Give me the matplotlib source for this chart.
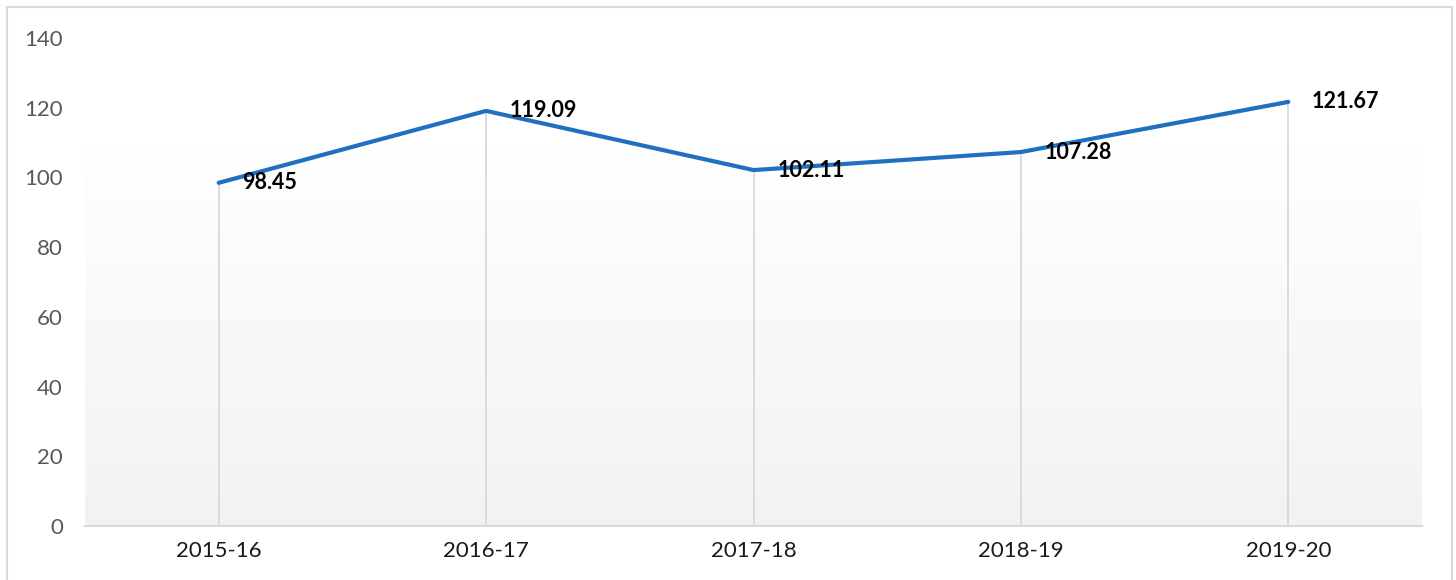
import numpy as np
import matplotlib
matplotlib.use("Agg")
import matplotlib.pyplot as plt
from matplotlib.colors import LinearSegmentedColormap
from matplotlib.patches import Rectangle

categories = ["2015-16", "2016-17", "2017-18", "2018-19", "2019-20"]
values = [98.45, 119.09, 102.11, 107.28, 121.67]
yticks = [0, 20, 40, 60, 80, 100, 120, 140]

plt.rcParams['font.family'] = ['Lato', 'DejaVu Sans']

fig = plt.figure(figsize=(14.56, 5.80), dpi=100)
fig.patches.append(Rectangle((7/1456, -0.05), (1452-7)/1456, 1.05 - 7/580, transform=fig.transFigure,
                             fill=False, edgecolor='#d9d9d9', linewidth=1.5, zorder=0))
ax = fig.add_axes([85/1456, 54/580, 1337/1456, 488/580])
x = np.arange(len(categories))
ax.set_xlim(-0.5, len(categories) - 0.5)
ax.set_ylim(0, 140)

# gradient background
cmap = LinearSegmentedColormap.from_list('g', ['#f2f2f2', '#ffffff'])
grad = np.linspace(0, 1, 256).reshape(-1, 1)
ax.imshow(grad, cmap=cmap, origin='lower', aspect='auto',
          extent=(-0.5, len(categories) - 0.5, 0, 109.5), zorder=0)

# drop lines
ax.vlines(x, 0, values, color='#d9d9d9', linewidth=1.3, zorder=1)
ax.plot(x, values, color='#1f70c1', linewidth=3.0, solid_capstyle='round', zorder=3)

for xi, v in zip(x, values):
    ax.annotate(f"{v:.2f}", (xi, v), xytext=(17, 0), textcoords='offset points',
                ha='left', va='center', fontsize=15.5, fontweight='bold', color='black', zorder=4)

ax.set_xticks(x)
ax.set_xticklabels(categories, fontsize=16, color='#1a1a1a')
ax.set_yticks(yticks)
ax.set_yticklabels([str(t) for t in yticks], fontsize=16, color='#595959')
ax.tick_params(axis='both', length=0)
ax.tick_params(axis='y', pad=16)
ax.tick_params(axis='x', pad=11)
for s in ['top', 'right', 'left']:
    ax.spines[s].set_visible(False)
ax.spines['bottom'].set_color('#d9d9d9')
ax.spines['bottom'].set_linewidth(1.5)
ax.spines['bottom'].set_zorder(2)

fig.savefig("out.png", dpi=100)
